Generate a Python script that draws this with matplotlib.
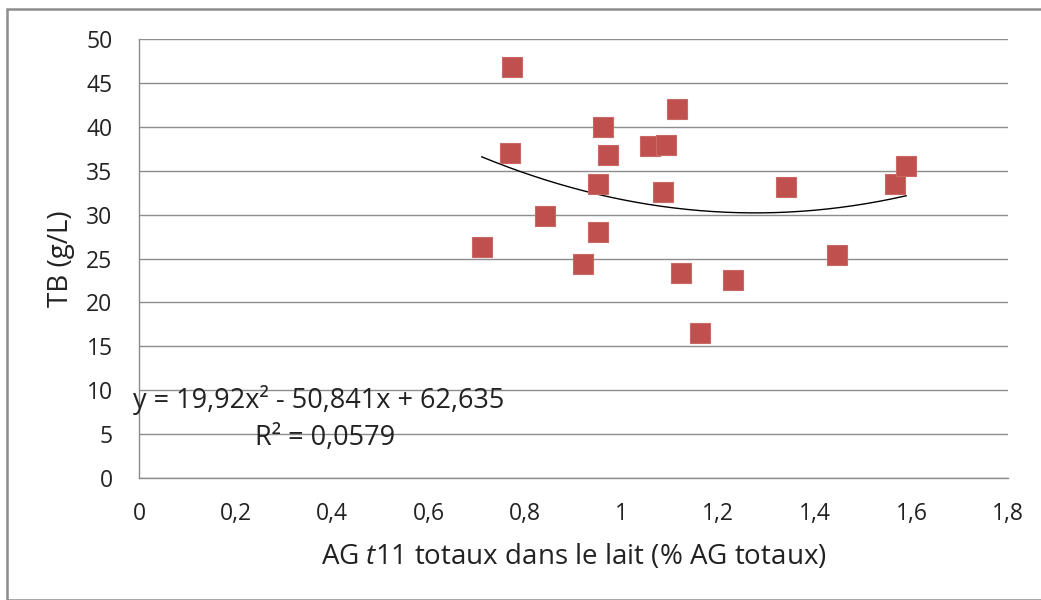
import numpy as np
import matplotlib.pyplot as plt
from matplotlib.patches import Rectangle

plt.rcParams['font.family'] = ['Open Sans', 'DejaVu Sans']
plt.rcParams['mathtext.fontset'] = 'custom'
plt.rcParams['mathtext.rm'] = 'Open Sans'
plt.rcParams['mathtext.it'] = 'Open Sans:italic'

# data
ag_t11 = [0.710, 0.768, 0.773, 0.841, 0.920, 0.951, 0.951, 0.961, 0.972, 1.058,
          1.085, 1.092, 1.114, 1.123, 1.162, 1.230, 1.340, 1.446, 1.566, 1.589]
tb = [26.3, 37.0, 46.8, 29.8, 24.4, 33.5, 28.0, 40.0, 36.8, 37.8,
      32.6, 37.9, 42.0, 23.3, 16.5, 22.5, 33.2, 25.4, 33.5, 35.5]

# polynomial trendline coefficients (from the equation shown)
coef = [19.92, -50.841, 62.635]
eq_label = "y = 19,92x² - 50,841x + 62,635"
r2_label = "R² = 0,0579"

x_ticks = [0, 0.2, 0.4, 0.6, 0.8, 1, 1.2, 1.4, 1.6, 1.8]
x_tick_labels = ["0", "0,2", "0,4", "0,6", "0,8", "1", "1,2", "1,4", "1,6", "1,8"]
y_ticks = list(range(0, 51, 5))

fig = plt.figure(figsize=(10.41, 6.0), dpi=100)
ax = fig.add_axes([139/1041, 1 - 478/600, (1008 - 139)/1041, (478 - 39)/600])

# outer chart frame
fig.patches.append(Rectangle((7/1041, 0), 1.1, 1 - 9/600, transform=fig.transFigure,
                             fill=False, edgecolor="#8c8c8c", linewidth=1.8))

ax.set_xlim(0, 1.8)
ax.set_ylim(0, 50)
ax.set_yticks(y_ticks)
ax.set_xticks(x_ticks)
ax.set_xticklabels(x_tick_labels)
ax.tick_params(length=0, labelsize=16.5, colors="#222222")
ax.tick_params(axis="x", pad=17)
ax.tick_params(axis="y", pad=19)
ax.grid(axis="y", color="#8c8c8c", linewidth=1.0)
ax.set_axisbelow(True)
for s in ["top", "right"]:
    ax.spines[s].set_visible(False)
for s in ["left", "bottom"]:
    ax.spines[s].set_color("#8c8c8c")
    ax.spines[s].set_linewidth(1.0)

xs = np.linspace(min(ag_t11), max(ag_t11), 200)
ax.plot(xs, np.polyval(coef, xs), color="black", linewidth=1.0, zorder=2)

ax.plot(ag_t11, tb, linestyle="none", marker="s", markersize=14,
        markerfacecolor="#C0504D", markeredgecolor="#c96864", markeredgewidth=0.8, zorder=3)

ax.set_xlabel(r"AG $\it{t}$11 totaux dans le lait (% AG totaux)", fontsize=20, labelpad=12,
              color="#222222")
ax.set_ylabel("TB (g/L)", fontsize=20, labelpad=8, color="#222222")

ax.text(-0.012, 8.9, eq_label, fontsize=19.5, color="#222222", va="center", ha="left", zorder=4)
ax.text(0.385, 4.6, r2_label, fontsize=19.5, color="#222222", va="center", ha="center", zorder=4)

fig.savefig("out.png", dpi=100)
plt.close(fig)
